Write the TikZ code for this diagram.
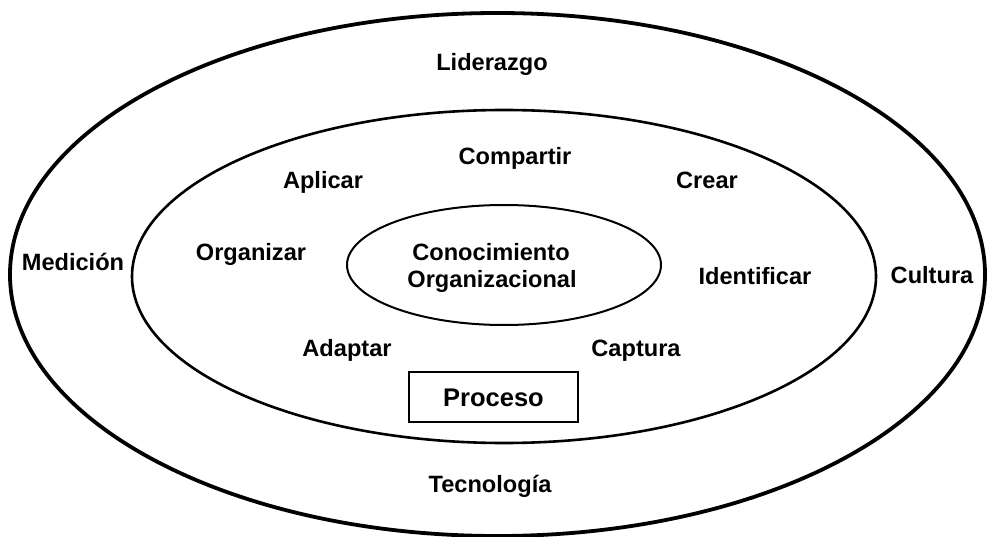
\documentclass[tikz,border=0pt]{standalone}
\usepackage{fontspec}
\setmainfont{Liberation Sans}
\begin{document}
\begin{tikzpicture}[x=1pt,y=-1pt,
  lbl/.style={font=\fontsize{23.6}{26}\selectfont\bfseries, inner sep=0pt, anchor=base},
  biglbl/.style={font=\fontsize{25.5}{28}\selectfont\bfseries, inner sep=0pt, anchor=base}]
\useasboundingbox[fill=white] (0,0) rectangle (987,537);
% ellipses
\draw[line width=3.8pt] (497.5,274.5) ellipse [x radius=487.5, y radius=261.5];
\draw[line width=2.6pt] (504,276.5) ellipse [x radius=372, y radius=166.5];
\draw[line width=2pt] (504,265) ellipse [x radius=157, y radius=60];
% outer labels
\node[lbl] (lid) at (492,70.7) {Liderazgo};
\node[lbl] (tec) at (490,492.7) {Tecnología};
\node[lbl] (med) at (73,270.7) {Medición};
\node[lbl] (cul) at (932,283.3) {Cultura};
% middle labels
\node[lbl] (org) at (251,260) {Organizar};
\node[lbl] (ada) at (347,356.7) {Adaptar};
\node[lbl] (apl) at (323,188.3) {Aplicar};
\node[lbl] (com) at (515,164.3) {Compartir};
\node[lbl] (cre) at (707,189) {Crear};
\node[lbl] (ide) at (755,284.3) {Identificar};
\node[lbl] (cap) at (636,356.7) {Captura};
% inner
\node[lbl] (con1) at (491,260.7) {Conocimiento};
\node[lbl] (con2) at (492,287.7) {Organizacional};
% proceso box
\draw[line width=2pt] (409,372) rectangle (578,422);
\node[biglbl] (pro) at (493.5,406.7) {Proceso};
\end{tikzpicture}
\end{document}
